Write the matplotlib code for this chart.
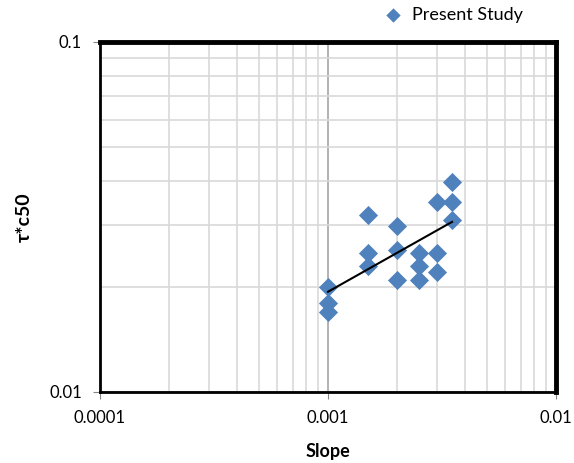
import matplotlib.pyplot as plt
import numpy as np
from matplotlib.ticker import LogLocator, NullFormatter, FixedFormatter, FixedLocator

plt.rcParams['font.family'] = ['Lato', 'DejaVu Sans']

# Present Study data (slope vs tau*c50)
slope = [0.001, 0.001, 0.001,
         0.0015, 0.0015, 0.0015,
         0.002, 0.002, 0.002,
         0.0025, 0.0025, 0.0025,
         0.003, 0.003, 0.003,
         0.0035, 0.0035, 0.0035]
tau_c50 = [0.020, 0.018, 0.0169,
           0.032, 0.025, 0.0229,
           0.0298, 0.0255, 0.0209,
           0.025, 0.0229, 0.0209,
           0.0349, 0.025, 0.022,
           0.0398, 0.0349, 0.031]

xticks = [0.0001, 0.001, 0.01]
xticklabels = ['0.0001', '0.001', '0.01']
yticks = [0.01, 0.1]
yticklabels = ['0.01', '0.1']

fig = plt.figure(figsize=(5.74, 4.63), dpi=100)
ax = fig.add_axes([100/574, 1 - 392/463, 456/574, 350/463])

ax.set_xscale('log')
ax.set_yscale('log')
ax.set_xlim(0.0001, 0.01)
ax.set_ylim(0.01, 0.1)

ax.scatter(slope, tau_c50, marker='D', s=95, color='#4F81BD', zorder=3,
           label='Present Study', linewidths=0)

# power-law trend line
lx = np.log10(slope)
ly = np.log10(tau_c50)
b, a = np.polyfit(lx, ly, 1)
xs = np.array([min(slope), max(slope)])
ax.plot(xs, 10 ** (a + b * np.log10(xs)), color='black', lw=1.5, zorder=4)

ax.xaxis.set_major_locator(FixedLocator(xticks))
ax.xaxis.set_major_formatter(FixedFormatter(xticklabels))
ax.yaxis.set_major_locator(FixedLocator(yticks))
ax.yaxis.set_major_formatter(FixedFormatter(yticklabels))
ax.xaxis.set_minor_locator(LogLocator(base=10, subs=np.arange(2, 10)))
ax.yaxis.set_minor_locator(LogLocator(base=10, subs=np.arange(2, 10)))
ax.xaxis.set_minor_formatter(NullFormatter())
ax.yaxis.set_minor_formatter(NullFormatter())

ax.grid(True, which='minor', color='#D9D9D9', lw=1.2, zorder=0)
ax.grid(True, which='major', color='#A6A6A6', lw=1.2, zorder=0)
ax.set_axisbelow(True)

ax.tick_params(which='major', length=5, direction='out', color='#868686',
               labelsize=12, pad=8)
ax.tick_params(which='minor', length=0)

for side in ['top', 'right']:
    ax.spines[side].set_linewidth(3.5)
    ax.spines[side].set_color('black')
for side in ['left', 'bottom']:
    ax.spines[side].set_linewidth(2)
    ax.spines[side].set_color('black')

ax.set_xlabel('Slope', fontsize=13, fontweight='bold', labelpad=12)
ax.set_ylabel('τ*c50', fontsize=14, fontweight='bold', labelpad=12)

ax.legend(loc='lower left', bbox_to_anchor=(368/574, 1 - 30/463),
          bbox_transform=fig.transFigure, frameon=False, fontsize=13,
          handletextpad=0.05, markerscale=0.75, borderaxespad=0)

fig.savefig('out.png', dpi=100)
